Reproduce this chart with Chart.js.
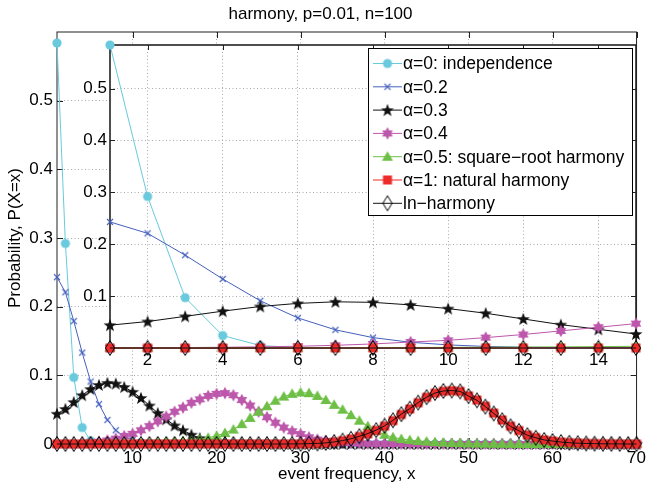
<!DOCTYPE html>
<html>
<head>
<meta charset="utf-8">
<script src="https://cdn.jsdelivr.net/npm/chart.js@4.4.1/dist/chart.umd.min.js"></script>
<style>
  html, body { margin: 0; padding: 0; background: #fff; }
  #wrap { position: relative; width: 650px; height: 486px; }
  #wrap canvas { position: absolute; left: 0; top: 0; }
</style>
</head>
<body>
<div id="wrap">
  <canvas id="mainChart" width="650" height="486"></canvas>
  <canvas id="insetChart" width="650" height="486"></canvas>
</div>
<script>
// event frequency x = 1..70
const freq = [
  1, 2, 3, 4, 5, 6, 7, 8, 9, 10,
  11, 12, 13, 14, 15, 16, 17, 18, 19, 20,
  21, 22, 23, 24, 25, 26, 27, 28, 29, 30,
  31, 32, 33, 34, 35, 36, 37, 38, 39, 40,
  41, 42, 43, 44, 45, 46, 47, 48, 49, 50,
  51, 52, 53, 54, 55, 56, 57, 58, 59, 60,
  61, 62, 63, 64, 65, 66, 67, 68, 69, 70
];

// P(X=x) for each alpha
const indep = [
  0.584, 0.292, 0.097, 0.024, 0.0047, 0.0008, 0.0001, 0, 0, 0,
  0, 0, 0, 0, 0, 0, 0, 0, 0, 0,
  0, 0, 0, 0, 0, 0, 0, 0, 0, 0,
  0, 0, 0, 0, 0, 0, 0, 0, 0, 0,
  0, 0, 0, 0, 0, 0, 0, 0, 0, 0,
  0, 0, 0, 0, 0, 0, 0, 0, 0, 0,
  0, 0, 0, 0, 0, 0, 0, 0, 0, 0
];
const alpha02 = [
  0.243, 0.221, 0.179, 0.133, 0.091, 0.058, 0.035, 0.020, 0.011, 0.006,
  0.003, 0.0015, 0.0007, 0.0003, 0.0001, 0, 0, 0, 0, 0,
  0, 0, 0, 0, 0, 0, 0, 0, 0, 0,
  0, 0, 0, 0, 0, 0, 0, 0, 0, 0,
  0, 0, 0, 0, 0, 0, 0, 0, 0, 0,
  0, 0, 0, 0, 0, 0, 0, 0, 0, 0,
  0, 0, 0, 0, 0, 0, 0, 0, 0, 0
];
const alpha03 = [
  0.044, 0.051, 0.061, 0.071, 0.080, 0.086, 0.089, 0.088, 0.083, 0.076,
  0.067, 0.056, 0.045, 0.036, 0.027, 0.020, 0.0135, 0.0085, 0.005, 0.003,
  0.0017, 0.0009, 0.0005, 0.0002, 0.0001, 0, 0, 0, 0, 0,
  0, 0, 0, 0, 0, 0, 0, 0, 0, 0,
  0, 0, 0, 0, 0, 0, 0, 0, 0, 0,
  0, 0, 0, 0, 0, 0, 0, 0, 0, 0,
  0, 0, 0, 0, 0, 0, 0, 0, 0, 0
];
const alpha04 = [
  0.0002, 0.0004, 0.0008, 0.0014, 0.0022, 0.0034, 0.0052, 0.0078, 0.0115, 0.0148,
  0.020, 0.026, 0.033, 0.040, 0.047, 0.053, 0.060, 0.065, 0.070, 0.073,
  0.074, 0.071, 0.064, 0.056, 0.047, 0.039, 0.031, 0.024, 0.0185, 0.0145,
  0.0098, 0.0065, 0.0045, 0.003, 0.002, 0.0013, 0.0008, 0.0005, 0.0003, 0.0002,
  0.0001, 0, 0, 0, 0, 0, 0, 0, 0, 0,
  0, 0, 0, 0, 0, 0, 0, 0, 0, 0,
  0, 0, 0, 0, 0, 0, 0, 0, 0, 0
];
const alpha05 = [
  0.0001, 0.0001, 0.0002, 0.0003, 0.0004, 0.0005, 0.0006, 0.0008, 0.001, 0.0012,
  0.0015, 0.0018, 0.0022, 0.0027, 0.0033, 0.004, 0.0049, 0.0065, 0.009, 0.012,
  0.016, 0.021, 0.029, 0.038, 0.047, 0.055, 0.063, 0.069, 0.073, 0.075,
  0.074, 0.070, 0.064, 0.057, 0.050, 0.042, 0.034, 0.026, 0.019, 0.0135,
  0.0098, 0.0073, 0.0057, 0.0045, 0.0035, 0.0027, 0.002, 0.0015, 0.0011, 0.0008,
  0.0006, 0.0004, 0.0003, 0.0002, 0.0001, 0, 0, 0, 0, 0,
  0, 0, 0, 0, 0, 0, 0, 0, 0, 0
];
const alpha1 = [
  0, 0, 0, 0, 0, 0, 0, 0, 0, 0,
  0, 0, 0, 0, 0, 0, 0, 0, 0, 0,
  0, 0, 0, 0, 0, 0, 0, 0, 0.0001, 0.0002,
  0.0004, 0.0008, 0.0015, 0.0028, 0.0048, 0.0073, 0.011, 0.0148, 0.0198, 0.026,
  0.034, 0.043, 0.051, 0.060, 0.068, 0.074, 0.0768, 0.0776, 0.0766, 0.070,
  0.064, 0.055, 0.045, 0.035, 0.026, 0.0195, 0.013, 0.0093, 0.006, 0.0044,
  0.0029, 0.0019, 0.0013, 0.0008, 0.0005, 0.0003, 0.0002, 0.0001, 0, 0
];
const lnHarmony = [
  0, 0, 0, 0, 0, 0, 0, 0, 0, 0,
  0, 0, 0, 0, 0, 0, 0, 0, 0, 0,
  0, 0, 0, 0, 0, 0, 0, 0, 0.0001, 0.0002,
  0.0005, 0.0009, 0.0016, 0.003, 0.005, 0.0076, 0.0113, 0.0152, 0.0202, 0.0265,
  0.0345, 0.0435, 0.0515, 0.0603, 0.0682, 0.0742, 0.0772, 0.0779, 0.0766, 0.0698,
  0.0636, 0.0545, 0.0445, 0.0346, 0.0257, 0.0192, 0.0128, 0.0091, 0.0059, 0.0043,
  0.0028, 0.0018, 0.0012, 0.0008, 0.0005, 0.0003, 0.0002, 0.0001, 0, 0
];

const mainXTicks = [10, 20, 30, 40, 50, 60, 70];
const mainYTicks = [0, 0.1, 0.2, 0.3, 0.4, 0.5];
const insetXTicks = [2, 4, 6, 8, 10, 12, 14];
const insetYTicks = [0.1, 0.2, 0.3, 0.4, 0.5];

const cyan = '#68cadc', blue = '#4560bd', black = '#111111',
      purple = '#bd57ab', green = '#6dbf45', red = '#ee2b2b';
const gridColor = '#a9a9a9';
const fontFamily = '"Liberation Sans", Arial, Helvetica, sans-serif';

Chart.defaults.font.family = fontFamily;
Chart.defaults.font.size = 17;
Chart.defaults.color = '#000';

// marker glyphs drawn once into small canvases, used as pointStyle
function marker(w, h, draw) {
  const c = document.createElement('canvas');
  c.width = w; c.height = h;
  draw(c.getContext('2d'), w / 2, h / 2);
  return c;
}
function starPath(g, cx, cy, n, ro, ri) {
  g.beginPath();
  for (let k = 0; k < 2 * n; k++) {
    const r = k % 2 ? ri : ro;
    const a = -Math.PI / 2 + k * Math.PI / n;
    g.lineTo(cx + r * Math.cos(a), cy + r * Math.sin(a));
  }
  g.closePath();
}
const circleMk = marker(12, 12, (g, cx, cy) => {
  g.fillStyle = cyan; g.beginPath(); g.arc(cx, cy, 4.6, 0, Math.PI * 2); g.fill();
});
const crossMk = marker(10, 10, (g, cx, cy) => {
  g.strokeStyle = blue; g.lineWidth = 1.1; g.beginPath();
  g.moveTo(cx - 3, cy - 3); g.lineTo(cx + 3, cy + 3);
  g.moveTo(cx + 3, cy - 3); g.lineTo(cx - 3, cy + 3); g.stroke();
});
const pentaMk = marker(16, 16, (g, cx, cy) => {
  g.fillStyle = black; starPath(g, cx, cy + 0.5, 5, 6.8, 2.8); g.fill();
});
const hexaMk = marker(16, 16, (g, cx, cy) => {
  g.fillStyle = purple; starPath(g, cx, cy, 6, 6.2, 3.6); g.fill();
});
const triMk = marker(14, 14, (g, cx, cy) => {
  g.fillStyle = green; g.beginPath();
  g.moveTo(cx, cy - 5.5); g.lineTo(cx + 5.5, cy + 4); g.lineTo(cx - 5.5, cy + 4);
  g.closePath(); g.fill();
});
const squareMk = marker(12, 12, (g, cx, cy) => {
  g.fillStyle = red; g.fillRect(cx - 4.5, cy - 4.5, 9, 9);
});
const diamondMk = marker(12, 18, (g, cx, cy) => {
  g.strokeStyle = '#000'; g.lineWidth = 1; g.beginPath();
  g.moveTo(cx, cy - 7.5); g.lineTo(cx + 4.6, cy); g.lineTo(cx, cy + 7.5); g.lineTo(cx - 4.6, cy);
  g.closePath(); g.stroke();
});

const series = [
  { label: '\u03b1=0: independence', values: indep, color: cyan, mk: circleMk },
  { label: '\u03b1=0.2', values: alpha02, color: blue, mk: crossMk },
  { label: '\u03b1=0.3', values: alpha03, color: black, mk: pentaMk },
  { label: '\u03b1=0.4', values: alpha04, color: purple, mk: hexaMk },
  { label: '\u03b1=0.5: square\u2212root harmony', values: alpha05, color: green, mk: triMk },
  { label: '\u03b1=1: natural harmony', values: alpha1, color: red, mk: squareMk },
  { label: 'ln\u2212harmony', values: lnHarmony, color: black, mk: diamondMk }
];

function buildDatasets(n) {
  return series.map((s, i) => ({
    label: s.label,
    data: freq.slice(0, n).map((f, k) => ({ x: f, y: s.values[k] })),
    borderColor: s.color,
    backgroundColor: s.color,
    borderWidth: 1,
    pointStyle: s.mk,
    pointRadius: 5,
    pointHoverRadius: 5,
    tension: 0,
    clip: 12,
    order: series.length - i   // later series on top
  }));
}

// axes box with inward tick marks on all four sides
const frame = {
  id: 'frame',
  beforeDraw(chart, args, opts) {
    if (!opts.fill) return;
    const { ctx, chartArea: a } = chart;
    ctx.save();
    ctx.fillStyle = '#fff';
    ctx.fillRect(a.left, a.top, a.right - a.left, a.bottom - a.top);
    ctx.restore();
  },
  beforeDatasetsDraw(chart, args, opts) {
    const { ctx, chartArea: a, scales: { x, y } } = chart;
    const L = opts.tick;
    ctx.save();
    ctx.strokeStyle = '#222';
    ctx.lineWidth = 1;
    ctx.beginPath();
    x.ticks.forEach(t => {
      const px = Math.round(x.getPixelForValue(t.value)) + 0.5;
      ctx.moveTo(px, a.bottom); ctx.lineTo(px, a.bottom - L);
      ctx.moveTo(px, a.top); ctx.lineTo(px, a.top + L);
    });
    y.ticks.forEach(t => {
      const py = Math.round(y.getPixelForValue(t.value)) + 0.5;
      ctx.moveTo(a.left, py); ctx.lineTo(a.left + L, py);
      ctx.moveTo(a.right, py); ctx.lineTo(a.right - L, py);
    });
    ctx.stroke();
    ctx.lineWidth = opts.width;
    ctx.strokeRect(a.left, a.top, a.right - a.left, a.bottom - a.top);
    ctx.restore();
  }
};

// legend inside the inset, top right
const legendBox = {
  id: 'legendBox',
  afterDatasetsDraw(chart) {
    const ctx = chart.ctx;
    const x0 = 368, y0 = 48, w = 264, h = 167;
    ctx.save();
    ctx.fillStyle = '#fff';
    ctx.fillRect(x0, y0, w, h);
    ctx.strokeStyle = '#000';
    ctx.lineWidth = 1;
    ctx.strokeRect(x0 + 0.5, y0 + 0.5, w, h);
    ctx.font = '17.5px ' + fontFamily;
    ctx.textBaseline = 'middle';
    chart.data.datasets.forEach((ds, i) => {
      const cy = 63.5 + i * 23.3;
      ctx.strokeStyle = ds.borderColor;
      ctx.beginPath(); ctx.moveTo(373, cy); ctx.lineTo(402, cy); ctx.stroke();
      const mk = ds.pointStyle;
      ctx.drawImage(mk, 387.5 - mk.width / 2, cy - mk.height / 2);
      ctx.fillStyle = '#000';
      ctx.fillText(ds.label, 403, cy + 1);
    });
    ctx.restore();
  }
};

const fmtY = v => (v === 0 ? '0' : v.toFixed(1));

function axes(xr, yr, xTicks, yTicks, sizes, extra) {
  return {
    x: Object.assign({
      type: 'linear', min: xr[0], max: xr[1],
      afterBuildTicks: s => { s.ticks = xTicks.map(v => ({ value: v })); },
      afterFit: s => { s.height = sizes.xh; },
      ticks: { padding: sizes.xp, maxRotation: 0, autoSkip: false, callback: v => String(v) },
      grid: { color: gridColor, drawTicks: false },
      border: { display: false, dash: [1, 2.5] }
    }, extra.x),
    y: Object.assign({
      type: 'linear', min: yr[0], max: yr[1],
      afterBuildTicks: s => { s.ticks = yTicks.map(v => ({ value: v })); },
      afterFit: s => { s.width = sizes.yw; },
      ticks: { padding: sizes.yp, autoSkip: false, callback: v => fmtY(v) },
      grid: { color: gridColor, drawTicks: false },
      border: { display: false, dash: [1, 2.5] }
    }, extra.y)
  };
}

new Chart(document.getElementById('mainChart'), {
  type: 'line',
  data: { datasets: buildDatasets(freq.length) },
  options: {
    responsive: false, animation: false, events: [], devicePixelRatio: 1,
    layout: { padding: { left: 0, right: 9, top: 0, bottom: 0 } },
    plugins: {
      legend: { display: false },
      tooltip: { enabled: false },
      title: {
        display: true, text: 'harmony, p=0.01, n=100', color: '#000',
        font: { size: 17, weight: 'normal' }, padding: { top: 4, bottom: 7.6 }
      },
      frame: { width: 1, tick: 6, fill: false }
    },
    scales: axes([1, 70], [0, 0.6], mainXTicks, mainYTicks,
      { xh: 42, xp: 4, yw: 57, yp: 4 },
      {
        x: { title: { display: true, text: 'event frequency, x', padding: { top: 0, bottom: 1.8 } } },
        y: { title: { display: true, text: 'Probability, P(X=x)', padding: { top: 5, bottom: 0 } } }
      })
  },
  plugins: [frame]
});

new Chart(document.getElementById('insetChart'), {
  type: 'line',
  data: { datasets: buildDatasets(15) },
  options: {
    responsive: false, animation: false, events: [], devicePixelRatio: 1,
    layout: { padding: { left: 70, right: 14, top: 45, bottom: 108 } },
    plugins: {
      legend: { display: false },
      tooltip: { enabled: false },
      frame: { width: 1.6, tick: 5, fill: true }
    },
    scales: axes([1, 15], [0, 0.584], insetXTicks, insetYTicks,
      { xh: 30, xp: 2, yw: 40, yp: 3 }, { x: {}, y: {} })
  },
  plugins: [frame, legendBox]
});
</script>
</body>
</html>
